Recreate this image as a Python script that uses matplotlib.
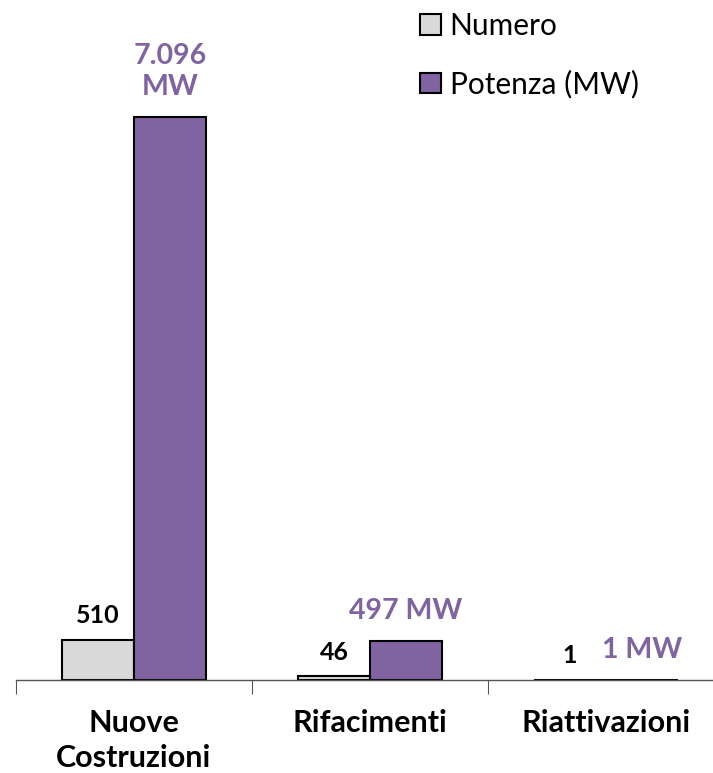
import numpy as np
import matplotlib.pyplot as plt

categorie = ["Nuove\nCostruzioni", "Rifacimenti", "Riattivazioni"]
numero = [510, 46, 1]
potenza = [7096, 497, 1]
etichette_numero = ["510", "46", "1"]
etichette_potenza = ["7.096\nMW", "497 MW", "1 MW"]

VIOLA = "#8064A2"
GRIGIO = "#D9D9D9"

plt.rcParams['font.family'] = ['Lato', 'DejaVu Sans']

fig = plt.figure(figsize=(7.13, 7.73), dpi=100)
ax = fig.add_axes([16/713, 93/773, 708/713, 680/773])

x = np.arange(len(categorie))
w = 0.305
ax.bar(x - w/2, numero, w, color=GRIGIO, edgecolor="black", linewidth=1.5, label="Numero")
ax.bar(x + w/2, potenza, w, color=VIOLA, edgecolor="black", linewidth=1.5, label="Potenza (MW)")

ax.set_xlim(-0.5, 2.5)
ax.set_ylim(0, 8570)

# etichette dei valori sopra le barre
for i in range(len(x)):
    ax.annotate(etichette_numero[i], (x[i] - w/2, numero[i]), xytext=(0, 9),
                textcoords="offset points", ha="center", va="bottom",
                fontsize=18, fontweight="bold", color="black")
    ax.annotate(etichette_potenza[i], (x[i] + w/2, potenza[i]), xytext=(0, 12),
                textcoords="offset points", ha="center", va="bottom",
                fontsize=20.5, fontweight="bold", color=VIOLA, linespacing=1.25)

ax.set_yticks([])
for s in ["top", "right", "left"]:
    ax.spines[s].set_visible(False)
ax.spines["bottom"].set_linewidth(1.0)
ax.spines["bottom"].set_color("#555555")

ax.set_xticks([-0.5, 0.5, 1.5, 2.5])
ax.set_xticklabels([])
ax.tick_params(axis="x", length=10, direction="out", color="#555555")
for i, c in enumerate(categorie):
    ax.text(x[i], -0.043, c, transform=ax.get_xaxis_transform(), ha="center", va="top",
            fontsize=22, fontweight="bold", linespacing=1.3)

leg = ax.legend(loc="upper left", bbox_to_anchor=(377/708, 1.022), frameon=False,
                fontsize=21.5, handlelength=0.7, handleheight=0.7, handletextpad=0.3,
                labelspacing=1.0)

fig.savefig("out.png", dpi=100)
